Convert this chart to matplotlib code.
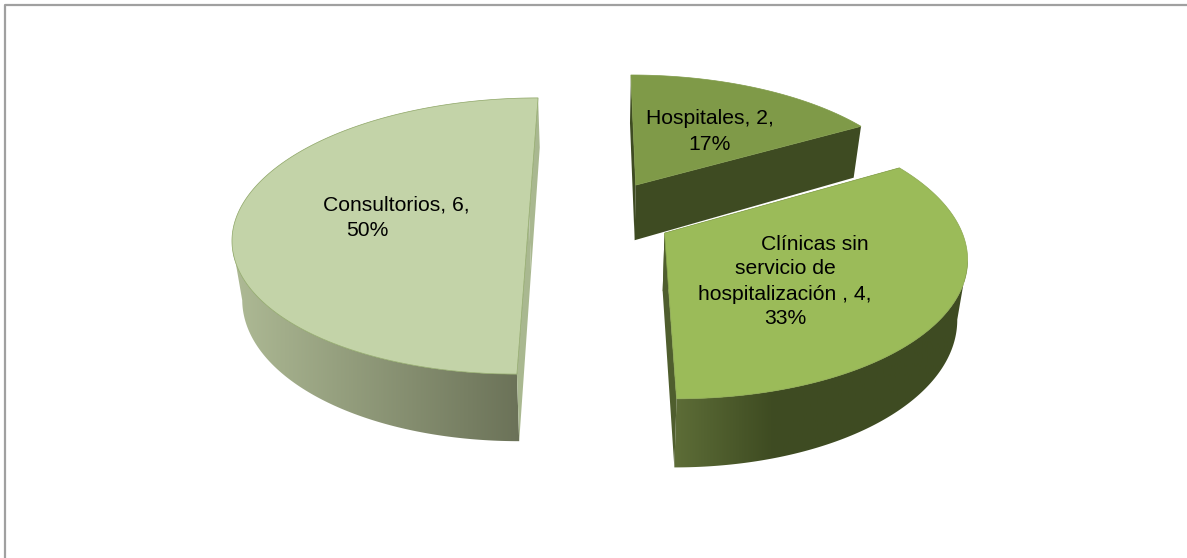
import numpy as np
import matplotlib
matplotlib.use("Agg")
import matplotlib.pyplot as plt
from matplotlib.colors import LinearSegmentedColormap
from matplotlib.patches import Polygon

categories = ["Hospitales", "Clínicas sin\nservicio de\nhospitalización ", "Consultorios"]
values = [2, 4, 6]
explode = [0.267, 0.258, 0.236]

top_colors = ["#7F9A48", "#9BBB59", "#C3D3A8"]
edge_colors = ["#7F9A48", "#8CA850", "#8DA565"]
face_colors = ["#3E4B22", "#4F5E2E", "#A9B890"]
wall_stops = [
    [(0, "#3E4B22"), (1, "#3E4B22")],
    [(0, "#5E6E38"), (0.33, "#3F4C22"), (1, "#3E4B22")],
    [(0, "#AEBA95"), (1, "#6B7258")],
]
wall_x = [(630, 870), (672, 970), (233, 520)]

# label lines: centre x and y of each line, in pixels
label_x = [[710, 710], [815, 785, 785, 785], [396, 367]]
label_y = [[118, 145], [244, 269, 294, 318], [205, 230]]

# projection of the pie plane
x0, y0 = 598, 215.3
rx, ry = 292, 135
persp = 0.15
depth = 57
shrink = 0.972


def project(px, py, low=False):
    w = 1 / (1 + persp * py)
    sx = x0 + rx * px * w
    sy = y0 - ry * py * w
    if low:
        sx = x0 + (sx - x0) * shrink
        sy = sy + depth * w
    return sx, sy


fig = plt.figure(figsize=(1187 / 100, 558 / 100), dpi=100)
ax = fig.add_axes([0, 0, 1, 1])

# border of the chart area
ax.plot([5, 5, 1187], [558, 5, 5], color="#A0A0A0", lw=1.6, zorder=1)

total = sum(values)
starts = np.cumsum([0] + values[:-1]) / total * 360
z = 2
for i in [2, 0, 1]:
    a0 = np.radians(starts[i])
    a1 = a0 + np.radians(values[i] / total * 360)
    mid = (a0 + a1) / 2
    cx = explode[i] * np.sin(mid)
    cy = explode[i] * np.cos(mid)
    t = np.linspace(a0, a1, 240)
    px = cx + np.sin(t)
    py = cy + np.cos(t)

    ux, uy = project(px, py)
    lx, ly = project(px, py, low=True)
    ax_up, ay_up = project(cx, cy)
    ax_lo, ay_lo = project(cx, cy, low=True)

    # outer wall: only the near part of the arc, up to the silhouette point
    side = np.argmax(np.abs(ux - x0))
    near = np.cos(t) <= np.cos(t[side])
    if near.sum() > 1:
        wall = np.column_stack([np.r_[ux[near], lx[near][::-1]], np.r_[uy[near], ly[near][::-1]]])
        clip = Polygon(wall, closed=True, transform=ax.transData)
        cmap = LinearSegmentedColormap.from_list("wall", wall_stops[i])
        im = ax.imshow(np.linspace(0, 1, 256)[None, :], cmap=cmap, aspect="auto",
                       extent=(wall_x[i][0], wall_x[i][1], 558, 0), zorder=z)
        im.set_clip_path(clip)
        z += 1

    # cut faces
    for k in [0, -1]:
        face = [(ux[k], uy[k]), (ax_up, ay_up), (ax_lo, ay_lo), (lx[k], ly[k])]
        ax.add_patch(Polygon(face, closed=True, fc=face_colors[i], ec="none", zorder=z))
        z += 1

    # top surface
    top = np.column_stack([np.r_[ux, ax_up], np.r_[uy, ay_up]])
    ax.add_patch(Polygon(top, closed=True, fc=top_colors[i], ec=edge_colors[i], lw=0.5, zorder=z))
    z += 1

for i, cat in enumerate(categories):
    pct = round(100 * values[i] / total)
    lines = f"{cat}, {values[i]},\n{pct}%".split("\n")
    for j, line in enumerate(lines):
        ax.text(label_x[i][j], label_y[i][j], line, ha="center", va="center",
                fontsize=15.2, family="Liberation Sans", color="black", zorder=50)

ax.set_xlim(0, 1187)
ax.set_ylim(558, 0)
ax.axis("off")
fig.savefig("out.png", dpi=100, facecolor="white")
